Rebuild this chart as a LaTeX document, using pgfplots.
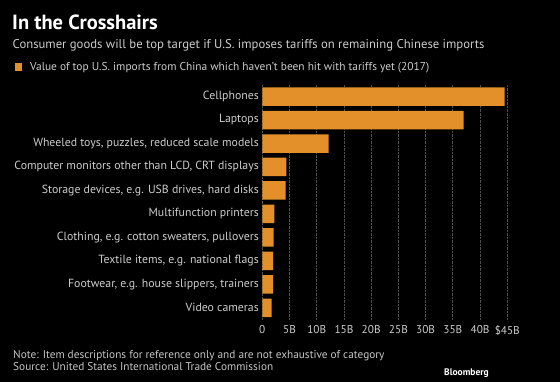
\documentclass[border=0pt]{standalone}
\usepackage{pgfplots}
\pgfplotsset{compat=1.18}
\usepackage{fontspec}
\setmainfont{PT Sans}
\definecolor{barc}{HTML}{E3902A}
\definecolor{lab}{HTML}{CCCCCC}
\definecolor{foot}{HTML}{C4C4C4}
\definecolor{gridc}{HTML}{505050}
\begin{document}
\begin{tikzpicture}
\fill[black] (0,0) rectangle (560bp,-382bp);
\node[anchor=base west,inner sep=0,text=white,font=\bfseries\fontsize{20.5bp}{22bp}\selectfont] at (12bp,-29.3bp) {In the Crosshairs};
\node[anchor=base west,inner sep=0,text=lab,font=\fontsize{12.7bp}{14bp}\selectfont] at (12.5bp,-48.3bp) {Consumer goods will be top target if U.S. imposes tariffs on remaining Chinese imports};
\fill[barc] (14.5bp,-63.3bp) rectangle (21.5bp,-71bp);
\node[anchor=base west,inner sep=0,text=lab,font=\fontsize{11.4bp}{12bp}\selectfont] at (30bp,-70.5bp) {Value of top U.S. imports from China which haven't been hit with tariffs yet (2017)};
\begin{axis}[
  at={(262.3bp,-84.8bp)}, anchor=north west,
  scale only axis, width=245bp, height=234.8bp,
  xmin=0, xmax=45, ymin=-0.5, ymax=9.5, y dir=reverse,
  axis line style={draw=none}, tick style={draw=none},
  xtick={0,5,...,45},
  xticklabels={0,5B,10B,15B,20B,25B,30B,35B,40B,\$45B},
  ytick={0,...,9},
  yticklabels={Cellphones,Laptops,{Wheeled toys, puzzles, reduced scale models},{Computer monitors other than LCD, CRT displays},{Storage devices, e.g. USB drives, hard disks},Multifunction printers,{Clothing, e.g. cotton sweaters, pullovers},{Textile items, e.g. national flags},{Footwear, e.g. house slippers, trainers},Video cameras},
  /pgf/number format/assume math mode=true,
  xticklabel style={text=lab,font=\fontsize{11.3bp}{12bp}\selectfont,yshift=-2bp},
  yticklabel style={text=lab,font=\fontsize{11.8bp}{12bp}\selectfont,xshift=0bp},
  xmajorgrids, grid style={gridc,densely dotted,line width=0.8bp},
  clip=false,
]
\addplot[xbar, bar width=18.5bp, fill=barc, draw=none] coordinates {
(44.5,0) (37.0,1) (12.2,2) (4.4,3) (4.3,4) (2.2,5) (2.1,6) (2.0,7) (2.0,8) (1.7,9)
};
\end{axis}
\node[anchor=base west,inner sep=0,text=foot,font=\fontsize{11.3bp}{12bp}\selectfont] at (13bp,-358bp) {Note: Item descriptions for reference only and are not exhaustive of category};
\node[anchor=base west,inner sep=0,text=foot,font=\fontsize{11.3bp}{12bp}\selectfont] at (13bp,-370.7bp) {Source: United States International Trade Commission};
\node[anchor=base west,inner sep=0,text=white,font=\bfseries\fontsize{9.5bp}{11bp}\selectfont] at (444bp,-375bp) {Bloomberg};
\end{tikzpicture}
\end{document}
